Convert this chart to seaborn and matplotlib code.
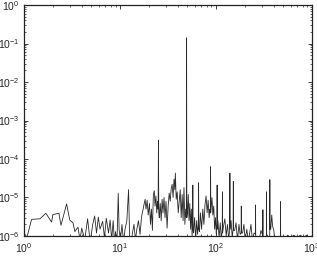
import matplotlib
matplotlib.use("Agg")
import matplotlib.pyplot as plt
import seaborn as sns
import pandas as pd

# Low-frequency part (1 - 45 Hz)
freq_low = [1.0, 1.05, 1.07, 1.2, 1.47, 1.69, 1.94, 2.0, 2.31, 2.43, 2.78, 3.0, 3.24, 3.39, 3.65, 3.83,
            4.0, 4.3, 4.6, 4.9, 5.2, 5.45, 5.7, 5.95, 6.2, 6.6, 6.9, 7.2, 7.6, 7.9, 8.2, 8.5, 8.75, 9.0,
            9.3, 9.6, 9.8, 10.1, 10.5, 10.9, 11.3, 11.8, 12.3, 12.6, 13.0, 13.5, 14.0, 14.5, 15.0, 15.6,
            16.2, 16.8, 17.4, 17.8, 18.3, 18.7, 19.2, 19.7, 20.3, 20.8, 21.3, 21.8, 22.3, 22.8, 23.2,
            23.7, 24.2, 24.6, 25.0, 25.2, 25.4, 25.7, 26.3, 26.9, 27.5, 28.1, 28.8, 29.5, 30.2, 31.0,
            31.8, 32.6, 33.4, 34.2, 35.0, 35.8, 36.6, 37.3, 37.8, 38.6, 39.5, 40.5, 41.5, 42.5, 43.5,
            44.5]
amp_low = [1.2e-6, 1.0e-6, 9e-7, 2.7e-6, 2.8e-6, 3.9e-6, 2.3e-6, 3.6e-6, 3.9e-6, 1.9e-6, 6.8e-6, 2.6e-6,
           2.2e-6, 1.3e-6, 1.7e-6, 8e-7,
           1.6e-6, 8e-7, 2.8e-6, 7e-7, 2.0e-6, 3.3e-6, 1.2e-6, 3.1e-6, 1.5e-6, 2.4e-6, 9e-7, 2.9e-6,
           1.2e-6, 2.6e-6, 8e-7, 2.5e-6, 7e-7, 1.3e-6,
           6e-7, 1.3e-5, 1.5e-6, 8e-7, 2.0e-6, 7e-7, 1.5e-6, 2.5e-6, 1.6e-5, 1.0e-6, 6e-7, 1.2e-6,
           2.0e-6, 8e-7, 1.5e-6, 2.5e-6,
           1.1e-6, 3.2e-6, 4.8e-6, 6.5e-6, 9e-6, 5e-6, 8.5e-6, 3.5e-6, 7e-6, 2.0e-6, 5e-6, 1.4e-6,
           1.2e-5, 1.5e-5, 6e-6,
           1.1e-5, 4e-6, 8e-6, 5e-6, 3.1e-4, 4e-6, 3e-6, 7e-6, 2.5e-6, 9e-6, 4e-6, 1.0e-5, 3e-6,
           8e-6, 1.6e-6,
           6e-6, 1.3e-5, 8e-6, 1.7e-5, 2.2e-5, 1.0e-5, 3.0e-5, 1.6e-5, 4.3e-5, 9e-6, 1.4e-5, 4e-6,
           8e-6, 1.6e-5, 3e-6,
           1.2e-5]

# High-frequency part (45 - 1000 Hz)
freq_high = [45.5, 46.5, 47.5, 48.5, 49.2, 49.5, 49.8, 50.5, 51.5, 52.5, 53.5, 54.5, 55.5, 56.5,
             57.2, 57.5, 57.8, 58.5, 60, 61.5, 63, 64.5, 65.6, 66, 66.4, 67.5, 69, 71, 73, 75, 77,
             79, 81, 83, 85, 86.5, 87.5, 88, 88.5, 89.5, 91, 93, 95, 97, 99, 101, 102.5, 103, 103.5,
             105, 108, 111, 114, 116.5, 117, 117.5, 120, 124, 128, 132, 136, 139.3, 140, 140.7,
             144, 148, 151.3, 152, 152.7, 157, 162, 168, 174, 179, 183.3, 184, 184.7, 190, 196,
             202, 210, 218, 226, 232, 240, 250, 258, 259, 260, 280, 295, 308, 309, 310, 328, 336,
             337, 338, 355, 364, 365, 366, 373, 382, 390, 402, 410, 440, 471, 472, 473, 520, 560,
             600, 650, 700, 760, 820, 880, 950, 1000]
amp_high = [2.5e-6, 1.8e-5, 2e-6, 5e-6, 3e-6, 0.14, 3e-6, 4e-6, 1.2e-5, 2.5e-6, 7e-6, 1.5e-6, 5e-6, 1.0e-6,
            2e-6, 2.1e-5, 1.5e-6, 1.2e-6, 3e-6, 8e-7, 2.5e-6, 1.1e-6, 2e-6, 2.4e-5, 1.5e-6, 1.3e-6, 4e-6,
            1.5e-6, 5e-6, 2e-6, 6.5e-6,
            1.1e-5, 4e-6, 8.5e-6, 3e-6, 5e-6, 4e-6, 6.3e-5, 4e-6, 6e-6, 1.0e-5, 3.5e-6, 6e-6, 1.5e-6,
            3e-6, 1.1e-6, 2e-6, 2.1e-5, 1.5e-6,
            2.5e-6, 9e-7, 2.2e-6, 8e-7, 1.5e-6, 1.4e-5, 1.2e-6, 1.8e-6, 2.8e-6, 1.0e-6, 2e-6, 8e-7,
            1.5e-6, 4.3e-5, 1.5e-6,
            2.5e-6, 9e-7, 1.5e-6, 2.6e-5, 1.4e-6, 1.4e-6, 2.2e-6, 8e-7, 2e-6, 1.1e-6, 1.2e-6, 6e-6,
            1.2e-6, 1.2e-6, 2.0e-6,
            8e-7, 1.5e-6, 7e-7, 1.3e-6, 2.0e-6, 8e-7, 1.2e-6, 1.1e-6, 6.4e-6, 1.0e-6, 7e-7, 1.4e-6,
            1.0e-6, 4.8e-6, 1.0e-6, 8e-7, 9e-7,
            1.4e-5, 1.1e-6, 9e-7, 1.0e-6, 2.9e-5, 1.5e-6, 1.5e-6, 3.5e-6, 1.8e-6, 1.4e-6, 7e-7, 8e-7,
            9e-7, 7.8e-6, 9e-7, 8e-7, 1.05e-6,
            9e-7, 1.05e-6, 9e-7, 1.05e-6, 9e-7, 1.05e-6, 9e-7, 1.0e-6]

df = pd.DataFrame({"freq": freq_low + freq_high, "amp": amp_low + amp_high})

sns.set_style("ticks")
plt.rcParams["font.family"] = ["Liberation Sans", "DejaVu Sans"]

fig = plt.figure(figsize=(3.17, 2.61), dpi=100)
ax = fig.add_axes([0.0757, 0.0958, 0.908, 0.885])
sns.lineplot(data=df, x="freq", y="amp", estimator=None, sort=False,
             color="#2a2a2a", linewidth=0.6, ax=ax)
ax.set_xscale("log")
ax.set_yscale("log")
ax.set_xlim(1, 1000)
ax.set_ylim(1e-6, 1)
ax.set_xlabel("")
ax.set_ylabel("")
for s in ax.spines.values():
    s.set_visible(True)
    s.set_linewidth(0.9)
    s.set_color("#222222")
ax.tick_params(which="both", direction="in", top=True, right=True, labelsize=7.5,
               color="#222222")
ax.tick_params(which="major", length=3, width=0.6)
ax.tick_params(which="minor", length=1.6, width=0.5)
ax.tick_params(axis="x", pad=4)
ax.tick_params(axis="y", pad=3)
fig.savefig("out.png", dpi=100)
